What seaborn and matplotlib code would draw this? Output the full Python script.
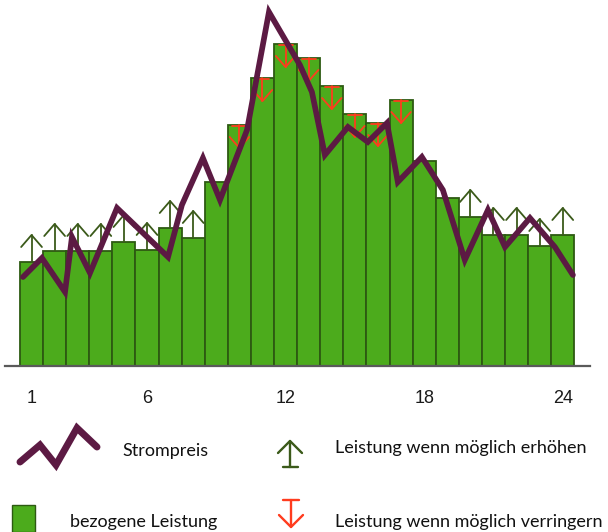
import numpy as np
import pandas as pd
import matplotlib
matplotlib.use("Agg")
import matplotlib.pyplot as plt
import seaborn as sns

# Hourly drawn power (bars) for hours 1..24
hours = list(range(1, 25))
power = [104, 115, 115, 115, 124, 116, 138, 128, 184, 241, 288, 322,
         308, 280, 252, 243, 266, 205, 168, 149, 131, 131, 120, 131]

# Electricity price curve (fractional hour positions, same vertical scale)
price_hour = [0.63, 1.45, 2.45, 2.75, 3.53, 4.70, 6.91, 7.51, 8.42, 9.16,
              10.33, 11.28, 12.62, 13.14, 13.70, 14.70, 15.56, 16.39, 16.86,
              17.90, 18.81, 19.76, 20.76, 21.50, 22.58, 23.66, 24.44]
price = [89, 108, 74, 129, 93, 158, 109, 161, 208, 166,
         236, 354, 301, 274, 211, 239, 224, 243, 184,
         209, 176, 106, 156, 119, 148, 119, 91]

# Hours where demand should rise / fall if possible
raise_hours = [1, 2, 3, 4, 5, 6, 7, 8, 20, 21, 22, 23, 24]
lower_hours = [10, 11, 12, 13, 14, 15, 16, 17]

tick_hours = [1, 6, 12, 18, 24]

legend_labels = ["Strompreis", "bezogene Leistung",
                 "Leistung wenn möglich erhöhen",
                 "Leistung wenn möglich verringern"]

BAR = "#4cab1c"
BAR_EDGE = "#2d5a12"
PRICE = "#5c1a43"
UP = "#3b5a1a"
DOWN = "#ff3c1e"

sns.set_style("white")
plt.rcParams["font.family"] = ["Lato", "DejaVu Sans"]

W, H = 608, 532
fig = plt.figure(figsize=(W / 100, H / 100), dpi=100)
fig.patch.set_facecolor("white")

ax = fig.add_axes([5 / W, (H - 366) / H, 585 / W, 366 / H])
df = pd.DataFrame({"hour": hours, "power": power})
sns.barplot(data=df, x="hour", y="power", native_scale=True, width=1.0,
            color=BAR, saturation=1, edgecolor=BAR_EDGE, linewidth=1.3, ax=ax)

# Arrows on top of the bars
for hr in raise_hours:
    h = power[hr - 1]
    tip = h + 27
    ax.plot([hr, hr], [h, tip], color=UP, lw=1.3, zorder=3)
    ax.plot([hr - 0.45, hr, hr + 0.45], [tip - 12, tip, tip - 12],
            color=UP, lw=1.3, zorder=3)
for hr in lower_hours:
    h = power[hr - 1]
    tip = h - 23
    ax.plot([hr - 0.3, hr + 0.3], [h - 1, h - 1], color=DOWN, lw=1.3, zorder=3)
    ax.plot([hr, hr], [h, tip], color=DOWN, lw=1.3, zorder=3)
    ax.plot([hr - 0.42, hr, hr + 0.42], [tip + 11, tip, tip + 11],
            color=DOWN, lw=1.3, zorder=3)

pdf = pd.DataFrame({"hour": price_hour, "price": price})
sns.lineplot(data=pdf, x="hour", y="price", sort=False, color=PRICE,
             lw=4.1, ax=ax, zorder=4)
for l in ax.lines[-1:]:
    l.set_solid_joinstyle("miter")

ax.set_xlim(-0.149, 25.18)
ax.set_ylim(0, 366)
ax.set_xlabel("")
ax.set_ylabel("")
ax.set_yticks([])
ax.set_xticks(tick_hours)
ax.set_xticklabels([str(t) for t in tick_hours], fontsize=13,
                   family=["Liberation Sans"], color="#1a1a1a")
ax.tick_params(axis="x", length=0, pad=17)
for s in ["left", "right", "top"]:
    ax.spines[s].set_visible(False)
ax.spines["bottom"].set_color("#5a5a5a")
ax.spines["bottom"].set_linewidth(1.6)
ax.set_facecolor("none")

# Legend area drawn in pixel coordinates
lg = fig.add_axes([0, 0, 1, 1], zorder=-1)
lg.set_xlim(0, W)
lg.set_ylim(H, 0)
lg.axis("off")

lg.plot([20, 40, 56, 77, 97], [462, 445, 465, 428, 447], color=PRICE,
        lw=5.0, solid_capstyle="round", solid_joinstyle="miter")
lg.add_patch(plt.Rectangle((12, 505), 23, 27, facecolor=BAR,
                           edgecolor=BAR_EDGE, lw=1.0))
# up arrow icon
lg.plot([290, 290], [441, 467], color=UP, lw=1.7)
lg.plot([283, 298], [467, 467], color=UP, lw=1.7)
lg.plot([278, 290, 302], [453, 441, 453], color=UP, lw=1.7)
# down arrow icon
lg.plot([291, 291], [500, 527], color=DOWN, lw=1.7)
lg.plot([283, 299], [500, 500], color=DOWN, lw=1.7)
lg.plot([279, 291, 303], [515, 527, 515], color=DOWN, lw=1.7)

txt = dict(fontsize=13, color="#111111", va="center", ha="left")
lg.text(122, 451, legend_labels[0], **txt)
lg.text(70, 522, legend_labels[1], **txt)
lg.text(335, 448, legend_labels[2], **txt)
lg.text(335, 522, legend_labels[3], **txt)

fig.savefig("out.png", dpi=100, facecolor="white")
